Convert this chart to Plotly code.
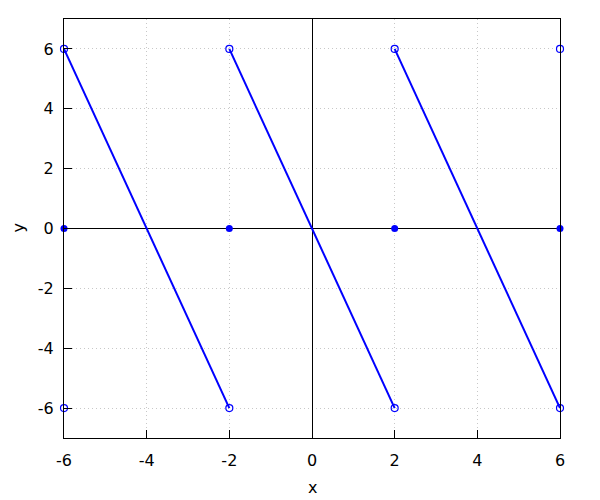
import plotly.graph_objects as go

# segment data
seg_x = [[-6, -2], [-2, 2], [2, 6]]
seg_y = [[6, -6], [6, -6], [6, -6]]
open_x = [-6, -6, -2, -2, 2, 2, 6, 6]
open_y = [6, -6, 6, -6, 6, -6, 6, -6]
fill_x = [-6, -2, 2, 6]
fill_y = [0, 0, 0, 0]
x_ticks = [-6, -4, -2, 0, 2, 4, 6]
y_ticks = [-6, -4, -2, 0, 2, 4, 6]
x_labels = ["-6", "-4", "-2", "0", "2", "4", "6"]
y_labels = ["-6", "-4", "-2", "0", "2", "4", "6"]

FONT = dict(family="DejaVu Sans", size=16, color="black")

fig = go.Figure()
for xs, ys in zip(seg_x, seg_y):
    fig.add_trace(go.Scatter(x=xs, y=ys, mode="lines", cliponaxis=False,
                             line=dict(color="#0000ff", width=2), showlegend=False))
fig.add_trace(go.Scatter(x=open_x, y=open_y, mode="markers", showlegend=False, cliponaxis=False,
                         marker=dict(symbol="circle-open", size=7, color="#0000ff",
                                     line=dict(width=1.2, color="#0000ff"))))
fig.add_trace(go.Scatter(x=fill_x, y=fill_y, mode="markers", showlegend=False, cliponaxis=False,
                         marker=dict(symbol="circle", size=7, color="#0000ff")))

axis_common = dict(showgrid=True, gridcolor="#c8c8c8", griddash="1px,3px", gridwidth=1,
                   zeroline=True, zerolinecolor="black", zerolinewidth=1,
                   showline=True, linecolor="black", linewidth=1,
                   mirror=True, ticks="inside", ticklen=8, tickcolor="black",
                   tickfont=FONT, automargin=False)

PLOT_W = 496.0
PLOT_H = 419.0

fig.update_layout(
    width=592, height=492,
    paper_bgcolor="white", plot_bgcolor="white",
    margin=dict(l=56, r=40, t=11, b=62),
    xaxis=dict(range=[-6, 6], tickvals=x_ticks, ticktext=x_labels,
               ticklabelstandoff=8, **axis_common),
    yaxis=dict(range=[-7, 7], tickvals=y_ticks, ticktext=y_labels,
               ticklabelstandoff=6, **axis_common),
    annotations=[
        dict(text="x", xref="paper", x=0.5, yref="paper", y=-49 / PLOT_H,
             xanchor="center", yanchor="middle", showarrow=False, font=FONT),
        dict(text="y", xref="paper", x=-46 / PLOT_W, yref="paper", y=0.5,
             xanchor="center", yanchor="middle", showarrow=False, textangle=-90, font=FONT),
    ],
)

fig.write_html("out.html")
